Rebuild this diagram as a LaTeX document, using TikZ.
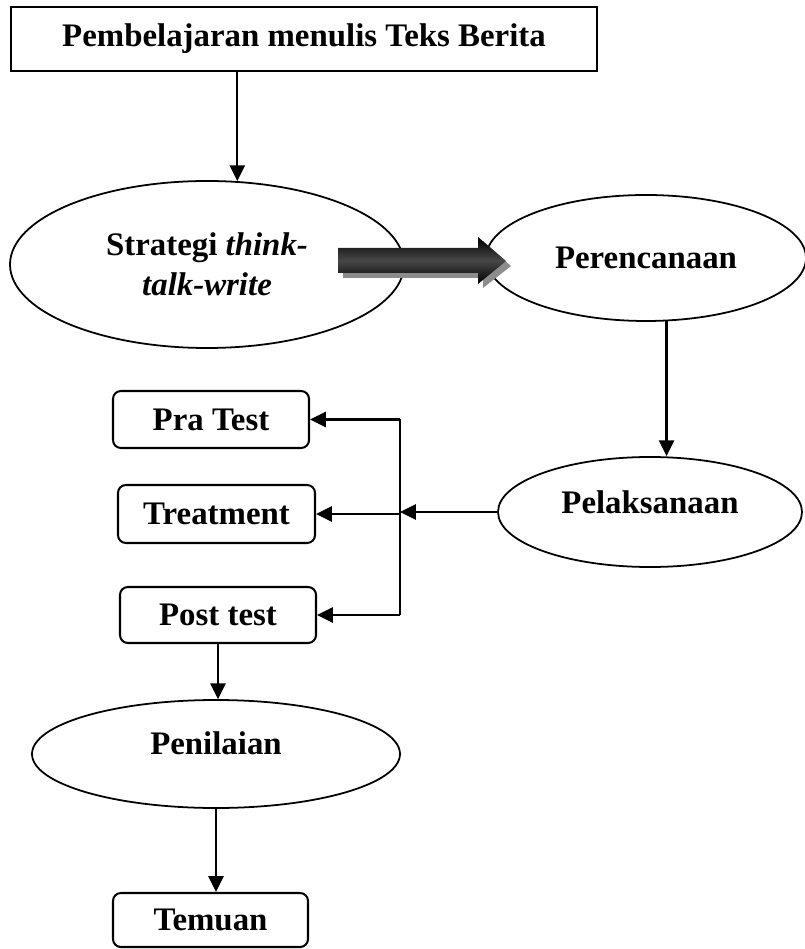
\documentclass[tikz,border=0pt]{standalone}
\usepackage{fontspec}
\setmainfont{Liberation Serif}
\usetikzlibrary{shapes.geometric,arrows.meta}

\newcommand{\pu}{0.0139cm}

\tikzset{
    every node/.style={font=\bfseries\fontsize{13}{15}\selectfont},
    stepbox/.style={draw,line width=0.8pt,rounded corners=0.11cm,inner sep=0pt},
    bubble/.style={draw,ellipse,line width=0.7pt,inner sep=0pt},
    arr/.style={line width=0.9pt,-{Triangle[length=0.22cm,width=0.21cm]}},
    conn/.style={line width=0.9pt}
}

\begin{document}
\begin{tikzpicture}
    \begin{scope}[x=\pu,y=-\pu]
        \useasboundingbox (0,0) rectangle (804,949);

        % top box
        \node[draw,line width=0.8pt,minimum width=586*\pu,minimum height=64*\pu] (top) at (304,39) {Pembelajaran menulis Teks Berita};

        % ellipses
        \node[bubble,minimum width=394*\pu,minimum height=167*\pu,align=center] (strat) at (207,264.5) {Strategi \textit{think-}\\[1pt]\textit{talk-write}};
        \node[bubble,minimum width=320*\pu,minimum height=126*\pu] (per) at (646,258) {Perencanaan};
        \node[bubble,minimum width=304*\pu,minimum height=110*\pu,text depth=20*\pu] (pel) at (650,512) {Pelaksanaan};
        \node[bubble,minimum width=368*\pu,minimum height=108*\pu,text depth=22*\pu] (pen) at (216,754) {Penilaian};

        % boxes
        \node[stepbox,minimum width=196*\pu,minimum height=57*\pu] (pra) at (211,419.5) {Pra Test};
        \node[stepbox,minimum width=197*\pu,minimum height=58*\pu] (treat) at (216.5,514) {Treatment};
        \node[stepbox,minimum width=196*\pu,minimum height=56*\pu] (post) at (218,615) {Post test};
        \node[stepbox,minimum width=195*\pu,minimum height=54*\pu] (tem) at (210.5,920) {Temuan};

        % block arrow
        \fill[black!45] (343,253) -- (483,253) -- (483,241) -- (511,266) -- (483,288) -- (483,278) -- (343,278) -- cycle;
        \shade[top color=black,bottom color=black,middle color=black!72] (338,248) -- (478,248) -- (478,237) -- (506,261) -- (478,284) -- (478,273) -- (338,273) -- cycle;

        % connectors
        \coordinate (split) at (400,514);
        \coordinate (jtop) at (split |- pra.east);
        \coordinate (jbot) at (split |- post.east);
        \draw[arr] (top.south -| strat.70) -- (strat.70);
        \draw[arr] (per.-72) -- (per.-72 |- pel.north);
        \draw[arr] (pel.west) -- (pel.west -| split);
        \draw[conn] (jtop) -- (jbot);
        \draw[arr] (jtop) -- (pra.east);
        \draw[arr] (split) -- (treat.east);
        \draw[arr] (jbot) -- (post.east);
        \draw[arr] (post.south) -- (post.south |- pen.north);
        \draw[arr] (pen.south) -- (pen.south |- tem.north);
    \end{scope}
\end{tikzpicture}
\end{document}
